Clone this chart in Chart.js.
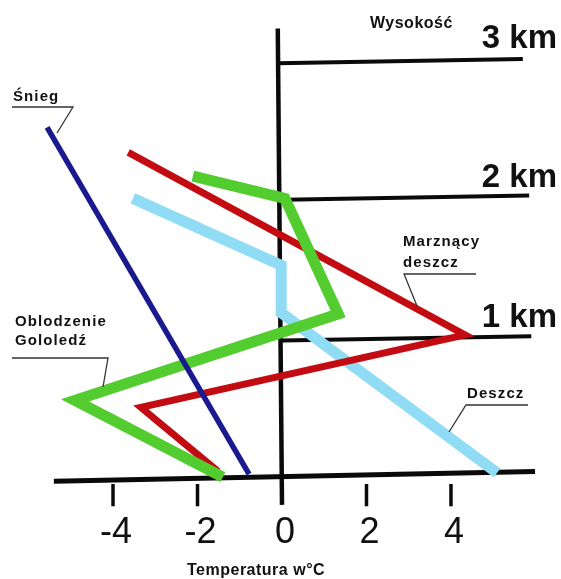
<!DOCTYPE html>
<html><head><meta charset="utf-8">
<script src="https://cdn.jsdelivr.net/npm/chart.js@4.4.1/dist/chart.umd.min.js"></script>
<style>html,body{margin:0;padding:0;background:#fff}#wrap{width:561px;height:579px;position:relative}</style>
</head><body><div id="wrap"><canvas id="c"></canvas></div>
<script>
// ---- data (temperature °C, height km) ----
const xTicks = [-4, -2, 0, 2, 4];
const heightLevels = [3, 2, 1];
const heightLabels = ['3 km', '2 km', '1 km'];

const sniegT = [-5.56, -0.78];
const sniegH = [2.51, 0.02];

const marznacyT = [-3.64, 4.33, -3.34, -1.51];
const marznacyH = [2.33, 1.02, 0.50, 0.04];

const oblodzenieT = [-2.11, 0.07, 1.33, -4.90, -1.40];
const oblodzenieH = [2.16, 2.00, 1.17, 0.55, 0.00];

const deszczT = [-3.53, -0.02, -0.02, 5.09];
const deszczH = [2.00, 1.52, 1.18, 0.03];

// frame lines (hand drawn, slightly tilted)
const zeroAxisT = [-0.10, 0.0];
const zeroAxisH = [3.22, -0.20];
const km3T = [-0.10, 5.70];
const km3H = [2.97, 3.00];
const km2T = [0.07, 5.85];
const km2H = [1.99, 2.02];
const km1T = [0.0, 5.90];
const km1H = [0.98, 1.01];
const baseT = [-5.40, 5.99];
const baseH = [-0.03, 0.04];

const seriesNames = ['Śnieg', 'Marznący deszcz', 'Oblodzenie Gololedź', 'Deszcz'];
const heightTitle = 'Wysokość';
const tempTitle = 'Temperatura w°C';

function pts(t, h) { return t.map((v, i) => ({ x: v, y: h[i] })); }

function line(label, t, h, color, width, order) {
  return {
    label, data: pts(t, h), showLine: true, borderColor: color, backgroundColor: color,
    borderWidth: width, pointRadius: 0, fill: false, tension: 0,
    borderCapStyle: 'butt', borderJoinStyle: 'miter', order
  };
}

const BLACK = '#0a0a0a';

const datasets = [
  line(seriesNames[0], sniegT, sniegH, '#1a1a8e', 5.5, 0),
  line(seriesNames[2], oblodzenieT, oblodzenieH, '#52cc2e', 11, 1),
  line(seriesNames[1], marznacyT, marznacyH, '#c20c12', 7, 2),
  line(seriesNames[3], deszczT, deszczH, '#90dcf5', 11, 3),
  line('axis0', zeroAxisT, zeroAxisH, BLACK, 4.5, 4),
  line('km3', km3T, km3H, BLACK, 4, 4),
  line('km2', km2T, km2H, BLACK, 4, 4),
  line('km1', km1T, km1H, BLACK, 4, 4),
  line('base', baseT, baseH, BLACK, 5, 4)
];

const decor = {
  id: 'decor',
  afterDatasetsDraw(chart) {
    const ctx = chart.ctx;
    const xs = chart.scales.x, ys = chart.scales.y;
    ctx.save();
    // tick marks
    ctx.strokeStyle = BLACK;
    ctx.lineWidth = 3.5;
    ctx.lineCap = 'butt';
    xTicks.forEach(v => {
      if (v === 0) return;
      const px = xs.getPixelForValue(v);
      ctx.beginPath();
      ctx.moveTo(px, ys.getPixelForValue(-0.05));
      ctx.lineTo(px, ys.getPixelForValue(-0.21));
      ctx.stroke();
    });
    // tick labels
    ctx.fillStyle = '#111';
    ctx.font = '36px "Liberation Sans", Arial, sans-serif';
    ctx.textAlign = 'center';
    ctx.textBaseline = 'alphabetic';
    xTicks.forEach(v => {
      ctx.fillText(String(v), xs.getPixelForValue(v) + 3, 543);
    });
    // height labels
    ctx.font = 'bold 33px "Liberation Sans", Arial, sans-serif';
    ctx.textAlign = 'right';
    heightLevels.forEach((h, i) => {
      ctx.fillText(heightLabels[i], 557, ys.getPixelForValue(h) - 11);
    });
    // titles
    ctx.font = 'bold 16px "Liberation Sans", Arial, sans-serif';
    ctx.letterSpacing = '0.5px';
    ctx.textAlign = 'left';
    ctx.fillText(heightTitle, 370, 28);
    ctx.fillText(tempTitle, 187, 575);
    // series annotations
    ctx.font = 'bold 15px "Liberation Sans", Arial, sans-serif';
    ctx.letterSpacing = '1.1px';
    ctx.fillText(seriesNames[0], 13, 101);
    const mz = seriesNames[1].split(' ');
    ctx.fillText(mz[0], 403, 246);
    ctx.fillText(mz[1], 403, 267);
    const ob = seriesNames[2].split(' ');
    ctx.fillText(ob[0], 15, 326);
    ctx.fillText(ob[1], 15, 345);
    ctx.fillText(seriesNames[3], 467, 398);
    ctx.letterSpacing = '0px';
    // leader lines
    ctx.strokeStyle = '#333';
    ctx.lineWidth = 1.3;
    const leaders = [
      [[12, 107], [73, 107], [57, 133]],
      [[476, 274], [404, 274], [417, 306]],
      [[12, 358], [108, 358], [103, 387]],
      [[528, 405], [466, 405], [449, 432]]
    ];
    leaders.forEach(p => {
      ctx.beginPath();
      ctx.moveTo(p[0][0], p[0][1]);
      for (let i = 1; i < p.length; i++) ctx.lineTo(p[i][0], p[i][1]);
      ctx.stroke();
    });
    ctx.restore();
  }
};

new Chart(document.getElementById('c'), {
  type: 'scatter',
  data: { datasets },
  options: {
    responsive: true,
    maintainAspectRatio: false,
    animation: false,
    layout: { padding: 0 },
    plugins: { legend: { display: false }, tooltip: { enabled: false } },
    scales: {
      x: { type: 'linear', min: -6.675, max: 6.604, display: false },
      y: { type: 'linear', min: -0.732, max: 3.424, display: false }
    }
  },
  plugins: [decor]
});
</script>
</body></html>
